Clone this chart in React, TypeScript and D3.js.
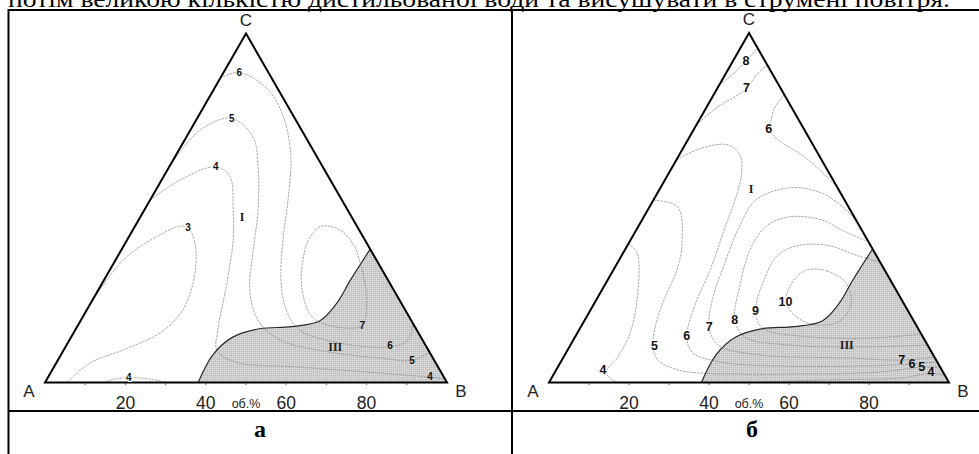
import React from 'react';
import { scaleLinear, line, curveCatmullRom, curveCatmullRomClosed, polygonContains } from 'd3';

const W = 979;
const H = 454;

const topText = 'потім великою кількістю дистильованої води та висушувати в струмені повітря.';
const captions = ['а', 'б'];
const vertexNames = ['A', 'B', 'C'];
const axisTicks = [10, 20, 30, 40, 50, 60, 70, 80, 90];
const axisLabels = [20, 40, 60, 80];
const axisUnit = 'об.%';

// boundary of field III, points as [B %, C %]
const region3 = [[38.1, 0], [37.8, 8.0], [40.2, 13.0], [45.7, 15.4], [53.3, 16.0], [59.5, 17.6], [61.2, 22.5], [61.3, 29.4], [61.8, 38.2]];

type Iso = { v: number; pts: number[][]; closed?: boolean };

// panel а : isolines
const isoA: Iso[] = [
  { v: 3, pts: [[0, 21.7], [1.9, 35.1], [6.9, 41.8], [11.2, 44.8], [13.4, 44.3], [17.3, 40.0], [21.6, 31.4], [23.9, 20.8], [21.5, 14.2], [14.7, 9.3], [8.4, 5.6], [5.4, 0]] },
  { v: 4, pts: [[14.5, 0], [16.9, 1.0], [20.2, 1.4], [25.6, 1.0], [29.9, 0]] },
  { v: 4, pts: [[0, 52.3], [4.6, 58.0], [11.6, 61.8], [16.5, 59.0], [22.1, 49.4], [26.4, 40.8], [31.0, 28.5], [35.5, 15.0], [38.1, 9.3], [44.3, 5.9], [61.2, 4.4], [78.6, 3.0], [94.2, 1.6], [98.9, 1.1]] },
  { v: 5, pts: [[0, 61.5], [2.4, 72.3], [8.6, 75.7], [16.6, 70.3], [21.5, 62.9], [28.3, 49.4], [32.8, 38.0], [37.7, 26.5], [44.0, 17.9], [52.4, 12.2], [66.5, 8.7], [79.8, 7.0], [88.1, 6.4], [91.3, 8.7]] },
  { v: 6, pts: [[0, 87.2], [3.9, 88.8], [13.0, 84.3], [21.2, 76.2], [28.8, 64.7], [34.3, 52.3], [38.8, 40.8], [44.0, 29.4], [49.6, 20.8], [55.9, 15.0], [67.7, 11.3], [80.7, 10.2], [84.2, 12.2], [83.0, 17.0]] },
  { v: 7, closed: true, pts: [[70.8, 16.2], [64.7, 15.9], [57.4, 18.5], [50.7, 26.5], [46.6, 35.1], [45.1, 41.7], [46.5, 44.8], [51.5, 43.7], [56.8, 39.7], [61.1, 34.5], [66.6, 26.5], [70.2, 19.3]] },
];
const isoLabelsA: [string, number, number][] = [
  ['6', 3.9, 88.8], ['5', 8.6, 75.7], ['4', 11.6, 61.8], ['3', 13.4, 44.3], ['4', 20.2, 1.3],
  ['7', 70.8, 16.2], ['6', 80.5, 10.6], ['5', 88.1, 6.4], ['4', 95.0, 1.6],
];
const fieldsA: [string, number, number][] = [['I', 25.3, 47.4], ['III', 67.1, 10.2]];

// panel б : isolines
const isoB: Iso[] = [
  { v: 8, pts: [[0, 85.1], [2.1, 88.8], [3.3, 92.0], [4.3, 95.7]] },
  { v: 7, pts: [[0, 73.7], [2.8, 78.9], [6.1, 82.3], [7.3, 84.2], [8.0, 88.6], [9.2, 90.8]] },
  { v: 6, pts: [[17.7, 82.3], [17.1, 78.8], [17.9, 75.1], [18.7, 72.5], [22.6, 69.4], [31.7, 64.5], [44.0, 56.0]] },
  { v: 6, pts: [[0, 63.7], [4.7, 67.1], [10.8, 68.0], [15.2, 65.1], [18.2, 59.9], [20.2, 53.1], [21.8, 44.5], [24.2, 32.2], [25.4, 22.2], [27.8, 13.3], [31.4, 8.7], [39.8, 5.9], [55.4, 4.7], [75.4, 4.7], [88.1, 5.3], [94.1, 5.9]] },
  { v: 5, pts: [[0, 52.2], [7.1, 50.2], [13.3, 39.9], [15.9, 32.2], [16.8, 24.5], [18.6, 15.9], [20.9, 10.2], [24.0, 6.4], [30.5, 3.6], [36.9, 2.7], [61.5, 2.4], [81.2, 3.0], [91.0, 4.4], [95.6, 4.4]] },
  { v: 4, pts: [[0, 39.7], [3.5, 37.1], [10.2, 23.6], [13.2, 14.2], [13.6, 7.3], [12.8, 3.0], [16.0, 0.4], [20.3, 0]] },
  { v: 4, pts: [[52.8, 0], [67.4, 0.7], [87.1, 1.3], [94.2, 2.6], [97.9, 2.1]] },
  { v: 7, pts: [[55.5, 44.5], [50.8, 48.5], [41.1, 54.2], [32.2, 55.7], [25.6, 52.2], [25.3, 44.5], [26.8, 34.5], [29.0, 23.6], [32.1, 15.9], [36.9, 10.7], [48.8, 7.9], [71.7, 7.0], [85.0, 6.4], [92.7, 7.3]] },
  { v: 8, pts: [[59.8, 40.2], [51.4, 43.6], [45.0, 46.5], [36.3, 47.4], [31.9, 44.6], [31.3, 37.9], [33.8, 27.9], [37.5, 17.9], [42.5, 13.0], [54.9, 10.7], [72.7, 10.2], [89.3, 10.7]] },
  { v: 9, pts: [[65.5, 34.5], [58.3, 36.5], [50.7, 39.1], [43.1, 39.3], [39.0, 36.5], [39.1, 29.3], [41.4, 20.5], [45.5, 15.6], [56.1, 13.3], [73.9, 12.7], [86.1, 13.9]] },
  { v: 10, closed: true, pts: [[60.0, 28.5], [53.6, 31.9], [48.4, 32.2], [46.5, 29.0], [47.7, 23.0], [52.6, 18.7], [58.3, 16.5], [63.6, 17.3], [64.4, 22.2]] },
];
const isoLabelsB: [string, number, number][] = [
  ['8', 3.2, 92.1], ['7', 7.3, 84.2], ['6', 18.7, 72.5],
  ['10', 47.6, 23.0], ['9', 41.4, 20.5], ['8', 37.5, 17.9], ['7', 32.1, 15.9], ['6', 27.8, 13.3], ['5', 21.2, 10.4], ['4', 11.7, 3.6],
  ['7', 85.0, 6.4], ['6', 88.1, 5.3], ['5', 91.0, 4.4], ['4', 94.0, 3.0],
];
const fieldsB: [string, number, number][] = [['I', 22.8, 55.4], ['III', 69.1, 10.7]];

const sans = 'Liberation Sans, Arial, sans-serif';
const serif = 'Liberation Serif, Times New Roman, serif';

type PanelProps = {
  id: string;
  x0: number; x1: number; base: number; apex: number;
  iso: Iso[]; isoLabels: [string, number, number][]; fields: [string, number, number][];
  labelSize: number; caption: string; cx: number;
};

const Panel = ({ id, x0, x1, base, apex, iso, isoLabels, fields, labelSize, caption, cx }: PanelProps) => {
  const x = scaleLinear().domain([0, 100]).range([x0, x1]);
  const y = scaleLinear().domain([0, 100]).range([base, apex]);
  const proj = (p: number[]): [number, number] => [x(p[0] + p[1] / 2), y(p[1])];

  const A = proj([0, 0]);
  const B = proj([100, 0]);
  const C = proj([0, 100]);
  const tri = `M${A}L${B}L${C}Z`;

  const open = line().curve(curveCatmullRom.alpha(0.5));
  const closed = line().curve(curveCatmullRomClosed.alpha(0.5));

  const edge = region3.map(proj);
  const regionPath = open(edge) + `L${B}Z`;
  const regionPoly = [...edge, B];

  return (
    <g>
      <defs>
        <clipPath id={`clip-${id}`}><path d={tri} /></clipPath>
      </defs>
      <path d={regionPath} fill="url(#hatch)" />
      <g clipPath={`url(#clip-${id})`}>
        {iso.map((s, i) => (
          <path key={i} d={(s.closed ? closed : open)(s.pts.map(proj)) || ''}
            fill="none" stroke="#939393" strokeWidth={0.8} strokeDasharray="2.5,1" />
        ))}
      </g>
      <path d={open(edge) || ''} fill="none" stroke="#2a2a2a" strokeWidth={1.2} />
      <path d={tri} fill="none" stroke="#000" strokeWidth={2} strokeLinejoin="miter" />
      {axisTicks.map(t => (
        <line key={t} x1={x(t)} x2={x(t)} y1={base} y2={base + 2.5} stroke="#333" strokeWidth={0.8} />
      ))}
      {axisLabels.map(t => (
        <text key={t} x={x(t)} y={409} textAnchor="middle" fontFamily={sans} fontSize={17.5} fill="#222">{t}</text>
      ))}
      <text x={x(50)} y={408} textAnchor="middle" fontFamily={sans} fontSize={12.5} fill="#222">{axisUnit}</text>
      <text x={A[0] - 16} y={base + 14.5} textAnchor="middle" fontFamily={sans} fontSize={17} fill="#222">{vertexNames[0]}</text>
      <text x={B[0] + 14} y={base + 14.5} textAnchor="middle" fontFamily={sans} fontSize={17} fill="#222">{vertexNames[1]}</text>
      <text x={C[0]} y={apex - 8} textAnchor="middle" fontFamily={sans} fontSize={17} fill="#222">{vertexNames[2]}</text>
      {isoLabels.map(([t, b, c], i) => {
        const p = proj([b, c]);
        const inside = polygonContains(regionPoly, p);
        return (
          <text key={i} x={p[0]} y={p[1]} textAnchor="middle" dominantBaseline="central"
            fontFamily={sans} fontWeight="bold" fontSize={labelSize} fill="#111"
            stroke={inside ? 'none' : '#fff'} strokeWidth={2} paintOrder="stroke">{t}</text>
        );
      })}
      {fields.map(([t, b, c], i) => {
        const p = proj([b, c]);
        return (
          <text key={i} x={p[0]} y={p[1]} textAnchor="middle" dominantBaseline="central"
            fontFamily={serif} fontWeight="bold" fontSize={12} fill="#222">{t}</text>
        );
      })}
      <text x={cx} y={437} textAnchor="middle" fontFamily={serif} fontWeight="bold" fontSize={24} fill="#000">{caption}</text>
    </g>
  );
};

export default function App() {
  return (
    <svg width={W} height={H} style={{ position: 'absolute', left: 0, top: 0, background: '#fff' }}>
      <defs>
        <pattern id="hatch" width={2} height={2} patternUnits="userSpaceOnUse">
          <rect width={2} height={2} fill="#c6c6c6" />
          <rect width={1} height={1} fill="#e4e4e4" />
        </pattern>
      </defs>
      <rect width={W} height={H} fill="#fff" />
      <text x={8} y={6.5} fontFamily={serif} fontSize={24} textLength={942} lengthAdjust="spacingAndGlyphs" fill="#000">{topText}</text>

      <line x1={8} x2={W} y1={10} y2={10} stroke="#000" strokeWidth={2} />
      <line x1={8} x2={W} y1={411} y2={411} stroke="#000" strokeWidth={2} />
      <line x1={8.5} x2={8.5} y1={9} y2={H} stroke="#000" strokeWidth={2} />
      <line x1={512} x2={512} y1={9} y2={H} stroke="#000" strokeWidth={2} />

      <Panel id="a" x0={45} x1={447} base={382.5} apex={33.5} iso={isoA} isoLabels={isoLabelsA}
        fields={fieldsA} labelSize={10} caption={captions[0]} cx={260} />
      <Panel id="b" x0={549} x1={949} base={382.5} apex={33} iso={isoB} isoLabels={isoLabelsB}
        fields={fieldsB} labelSize={12.5} caption={captions[1]} cx={752} />
    </svg>
  );
}
